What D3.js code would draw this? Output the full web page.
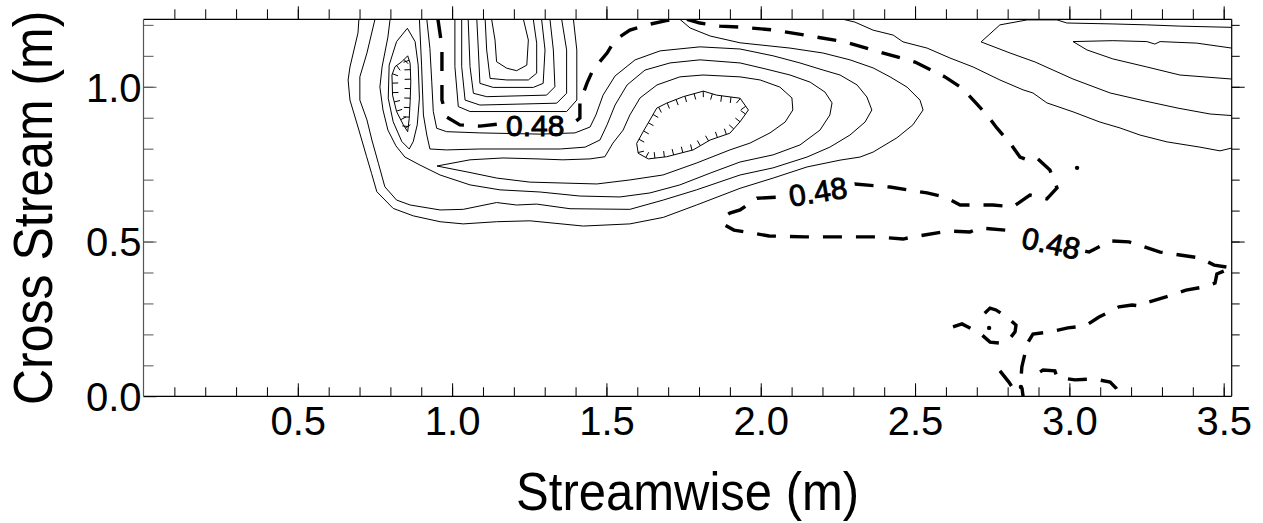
<!DOCTYPE html>
<html>
<head>
<meta charset="utf-8">
<script src="https://cdn.jsdelivr.net/npm/d3@7"></script>
<style>
  body { margin: 0; background: #fff; }
  text { font-family: "Liberation Sans", Arial, Helvetica, sans-serif; fill: #000; }
</style>
</head>
<body>
<svg id="chart" width="1263" height="523"></svg>
<script>
// ticks
var xMajor = [0.5, 1.0, 1.5, 2.0, 2.5, 3.0, 3.5];
var xMinor = d3.range(1, 36).map(function (i) { return i / 10; });
var yMajor = [0.0, 0.5, 1.0];
var yMinor = d3.range(1, 13).map(function (i) { return i / 10; });

// solid contours, open at the top (nested around x=1.2)
var contourU1 = [[1.128,1.218],[1.139,1.151],[1.144,1.081],[1.177,1.060],[1.209,1.052],[1.242,1.070],[1.247,1.151],[1.231,1.218]];
var contourU2 = [[1.107,1.218],[1.112,1.119],[1.123,1.027],[1.177,1.022],[1.247,1.022],[1.274,1.044],[1.274,1.141],[1.263,1.218]];
var contourU3 = [[1.080,1.218],[1.085,1.119],[1.090,1.011],[1.133,0.998],[1.263,0.998],[1.295,1.011],[1.301,1.119],[1.290,1.218]];
var contourU4 = [[1.052,1.218],[1.058,1.065],[1.069,0.979],[1.112,0.968],[1.306,0.973],[1.333,1.000],[1.328,1.119],[1.317,1.218]];
var contourU5 = [[1.031,1.218],[1.031,1.065],[1.042,0.957],[1.090,0.941],[1.339,0.947],[1.371,0.979],[1.371,1.119],[1.355,1.218]];
var contourU6 = [[1.009,1.218],[1.009,1.065],[1.020,0.936],[1.058,0.920],[1.371,0.920],[1.404,0.957],[1.404,1.119],[1.393,1.218]];

// long solid contours wrapping the wake
var contourA = [[0.698,1.218],[0.695,1.174],[0.669,1.064],[0.663,1.022],[0.669,0.957],[0.695,0.870],[0.723,0.774],[0.739,0.720],[0.756,0.661],[0.809,0.607],[0.874,0.583],[0.961,0.564],[1.036,0.557],[1.144,0.564],[1.252,0.567],[1.425,0.550],[1.576,0.557],[1.684,0.578],[1.792,0.618],[1.933,0.672],[2.040,0.705],[2.150,0.741],[2.257,0.763],[2.322,0.773],[2.364,0.789],[2.441,0.835],[2.493,0.877],[2.526,0.925],[2.516,0.957],[2.474,0.999],[2.419,1.032],[2.364,1.061],[2.289,1.087],[2.202,1.109],[2.095,1.125],[1.933,1.142],[1.836,1.164],[1.771,1.190],[1.738,1.218]];
var contourB = [[0.750,1.218],[0.744,1.193],[0.724,1.109],[0.701,1.032],[0.701,0.957],[0.724,0.893],[0.740,0.828],[0.761,0.753],[0.782,0.677],[0.820,0.634],[0.864,0.618],[0.961,0.602],[1.036,0.604],[1.144,0.626],[1.209,0.618],[1.274,0.621],[1.382,0.606],[1.576,0.604],[1.684,0.634],[1.792,0.667],[1.933,0.715],[2.040,0.738],[2.150,0.773],[2.224,0.805],[2.289,0.844],[2.338,0.886],[2.360,0.925],[2.344,0.967],[2.312,1.006],[2.257,1.038],[2.202,1.054],[2.127,1.077],[2.040,1.100],[1.933,1.122],[1.803,1.129],[1.674,1.116],[1.593,1.087],[1.528,1.035],[1.489,0.973],[1.466,0.909],[1.447,0.870],[1.398,0.851],[1.285,0.847],[1.090,0.851],[0.982,0.855],[0.950,0.866],[0.939,0.920],[0.934,1.016],[0.928,1.124],[0.918,1.218]];
var contourC = [[0.799,1.218],[0.792,1.161],[0.773,1.064],[0.766,0.999],[0.776,0.925],[0.792,0.860],[0.818,0.809],[0.847,0.773],[0.896,0.747],[0.961,0.715],[1.058,0.683],[1.155,0.667],[1.285,0.660],[1.414,0.647],[1.544,0.644],[1.641,0.657],[1.738,0.683],[1.836,0.721],[1.933,0.757],[2.040,0.780],[2.127,0.812],[2.192,0.860],[2.224,0.909],[2.231,0.948],[2.208,0.983],[2.160,1.015],[2.095,1.038],[2.014,1.058],[1.933,1.077],[1.803,1.087],[1.706,1.077],[1.625,1.054],[1.567,1.006],[1.528,0.941],[1.502,0.877],[1.479,0.828],[1.431,0.805],[1.350,0.799],[1.090,0.799],[0.982,0.796],[0.928,0.799],[0.918,0.844],[0.907,0.909],[0.901,1.070],[0.894,1.218]];

// closed solid contours
var loopE1 = [[0.951,0.744],[1.058,0.723],[1.145,0.705],[1.252,0.692],[1.359,0.689],[1.469,0.686],[1.576,0.699],[1.683,0.715],[1.793,0.754],[1.900,0.796],[1.965,0.818],[2.030,0.851],[2.079,0.886],[2.104,0.925],[2.101,0.964],[2.062,0.999],[1.998,1.022],[1.933,1.032],[1.813,1.038],[1.738,1.032],[1.664,1.006],[1.609,0.964],[1.576,0.909],[1.554,0.860],[1.521,0.818],[1.495,0.774],[1.447,0.767],[1.359,0.764],[1.275,0.767],[1.165,0.770],[1.058,0.764]];
var loopO1 = [[0.855,1.189],[0.880,1.146],[0.890,1.070],[0.894,0.963],[0.887,0.877],[0.874,0.823],[0.861,0.799],[0.837,0.823],[0.809,0.887],[0.793,0.963],[0.796,1.070],[0.820,1.146]];

// hachured lows
var pitH1 = [[0.856,1.100],[0.864,1.076],[0.866,1.016],[0.864,0.952],[0.861,0.898],[0.856,0.855],[0.842,0.877],[0.820,0.920],[0.807,0.973],[0.805,1.038],[0.815,1.065],[0.837,1.081]];
var pitH2 = [[1.598,0.817],[1.619,0.855],[1.663,0.931],[1.695,0.947],[1.749,0.968],[1.814,0.986],[1.857,0.973],[1.933,0.963],[1.960,0.925],[1.933,0.887],[1.900,0.850],[1.836,0.828],[1.781,0.796],[1.695,0.774],[1.636,0.767],[1.603,0.785]];

// solid contours on the right
var contourR1 = [[2.267,1.218],[2.305,1.209],[2.364,1.183],[2.429,1.167],[2.461,1.145],[2.539,1.125],[2.613,1.093],[2.688,1.064],[2.775,1.022],[2.850,0.990],[2.882,0.980],[2.927,0.948],[3.012,0.919],[3.099,0.886],[3.164,0.867],[3.229,0.844],[3.316,0.822],[3.423,0.805],[3.488,0.793],[3.526,0.802]];
var contourR2 = [[3.526,1.192],[3.358,1.196],[3.251,1.200],[3.141,1.203],[2.992,1.206],[2.960,1.216],[2.863,1.216],[2.775,1.200],[2.714,1.145],[2.808,1.109],[2.889,1.080],[3.012,1.025],[3.132,0.980],[3.245,0.954],[3.352,0.931],[3.456,0.912],[3.526,0.907]];
var contourR3 = [[3.526,1.125],[3.413,1.141],[3.294,1.146],[3.277,1.138],[3.251,1.146],[3.141,1.149],[3.012,1.146],[3.057,1.119],[3.141,1.090],[3.251,1.064],[3.358,1.038],[3.526,1.025]];

// the 0.48 level (dashed): first piece wraps the top-open family
var level048a = [[0.954,1.218],[0.967,1.129],[0.967,0.957],[0.983,0.902],[1.025,0.877],[1.090,0.873],[1.155,0.880],[1.285,0.886],[1.398,0.886],[1.414,0.899],[1.414,0.948],[1.437,1.012],[1.456,1.054],[1.502,1.109],[1.528,1.151],[1.576,1.183],[1.631,1.200],[1.690,1.213],[1.716,1.218]];
var level048b = [[1.761,1.218],[1.803,1.206],[1.868,1.196],[1.933,1.193],[2.046,1.183],[2.160,1.164],[2.273,1.145],[2.386,1.112],[2.500,1.080],[2.597,1.032],[2.652,0.996],[2.694,0.951],[2.733,0.909],[2.765,0.867],[2.808,0.818],[2.840,0.773],[2.866,0.763],[2.895,0.770],[2.937,0.731],[2.960,0.673],[2.927,0.638],[2.872,0.650],[2.817,0.612],[2.752,0.618],[2.646,0.618],[2.597,0.644],[2.539,0.657],[2.419,0.676],[2.305,0.686],[2.185,0.666],[2.069,0.644],[1.988,0.640],[1.933,0.602],[1.900,0.592],[1.881,0.579],[1.884,0.553],[1.913,0.537],[1.968,0.528],[2.027,0.518],[2.143,0.515],[2.257,0.515],[2.377,0.515],[2.461,0.508],[2.493,0.515],[2.607,0.534],[2.678,0.531],[2.710,0.544],[2.827,0.534],[2.937,0.495],[3.064,0.466],[3.132,0.502],[3.193,0.499],[3.294,0.466],[3.423,0.447],[3.469,0.424],[3.526,0.415],[3.478,0.395],[3.472,0.366],[3.433,0.353],[3.378,0.343],[3.313,0.321],[3.258,0.305],[3.229,0.292],[3.203,0.295],[3.161,0.289],[3.096,0.256],[3.051,0.227],[2.995,0.221],[2.937,0.208],[2.882,0.201],[2.866,0.175],[2.859,0.150],[2.846,0.095],[2.843,0.053],[2.850,0.000]];
var level048LoopP1 = [[2.623,0.224],[2.652,0.234],[2.691,0.214],[2.717,0.198],[2.743,0.175],[2.775,0.172],[2.808,0.188],[2.824,0.208],[2.827,0.230],[2.798,0.256],[2.762,0.279],[2.743,0.285],[2.723,0.266],[2.717,0.253]];
var level048P2 = [[2.775,0.082],[2.804,0.046],[2.834,0.000]];
var level048P3 = [[2.905,0.079],[2.915,0.085],[2.953,0.082],[2.960,0.062],[3.018,0.053],[3.080,0.056],[3.132,0.046],[3.151,0.027],[3.167,0.000]];
var level048Dots = [[2.740,0.221],[2.843,0.030],[3.025,0.738]];

// label anchors on the 0.48 line: [x, y, angle]
var labelSpots = [[1.269, 0.877, 0], [2.185, 0.662, -9], [2.941, 0.495, 12]];
var labelText = "0.48";

var svg = d3.select("#chart");
var x = d3.scaleLinear().domain([0, 3.526]).range([143.5, 1231.7]);
var y = d3.scaleLinear().domain([0, 1.218]).range([396.3, 19.3]);

var defs = svg.append("defs");
defs.append("clipPath").attr("id", "plotClip")
  .append("rect").attr("x", x(0)).attr("y", y(1.218))
  .attr("width", x(3.526) - x(0)).attr("height", y(0) - y(1.218));

// mask: hide the dashed line under its labels
var mask = defs.append("mask").attr("id", "labelMask").attr("maskUnits", "userSpaceOnUse");
mask.append("rect").attr("x", 0).attr("y", 0).attr("width", 1263).attr("height", 523).attr("fill", "#fff");
labelSpots.forEach(function (d) {
  mask.append("rect")
    .attr("x", -35).attr("y", -17).attr("width", 70).attr("height", 34)
    .attr("fill", "#000")
    .attr("transform", "translate(" + x(d[0]) + "," + y(d[1]) + ") rotate(" + d[2] + ")");
});

var openLine = d3.line().x(function (d) { return x(d[0]); }).y(function (d) { return y(d[1]); });
var loopLine = d3.line().x(function (d) { return x(d[0]); }).y(function (d) { return y(d[1]); }).curve(d3.curveLinearClosed);

var plot = svg.append("g").attr("clip-path", "url(#plotClip)");

var openSolid = [contourU1, contourU2, contourU3, contourU4, contourU5, contourU6,
                 contourA, contourB, contourC, contourR1, contourR2, contourR3];
plot.selectAll("path.solid").data(openSolid).enter().append("path")
  .attr("class", "solid").attr("d", openLine)
  .attr("fill", "none").attr("stroke", "#000").attr("stroke-width", 1);

var closedSolid = [loopE1, loopO1, pitH1, pitH2];
plot.selectAll("path.loop").data(closedSolid).enter().append("path")
  .attr("class", "loop").attr("d", loopLine)
  .attr("fill", "none").attr("stroke", "#000").attr("stroke-width", 1);

// downhill ticks on the two pits
[pitH1, pitH2].forEach(function (poly) {
  var pts = poly.map(function (d) { return [x(d[0]), y(d[1])]; });
  var node = plot.append("path").attr("d", loopLine(poly)).attr("fill", "none").attr("stroke", "none").node();
  var total = node.getTotalLength();
  var step = 9.5, len = 6;
  for (var s = step / 2; s < total; s += step) {
    var p = node.getPointAtLength(s);
    var a = node.getPointAtLength(Math.max(0, s - 1));
    var b = node.getPointAtLength(Math.min(total, s + 1));
    var tx = b.x - a.x, ty = b.y - a.y, n = Math.sqrt(tx * tx + ty * ty) || 1;
    var nx = -ty / n, ny = tx / n;
    if (!d3.polygonContains(pts, [p.x + nx * 2, p.y + ny * 2])) { nx = -nx; ny = -ny; }
    plot.append("line")
      .attr("x1", p.x).attr("y1", p.y).attr("x2", p.x + nx * len).attr("y2", p.y + ny * len)
      .attr("stroke", "#000").attr("stroke-width", 1);
  }
});

// dashed 0.48 level
var dashGroup = plot.append("g").attr("mask", "url(#labelMask)");
dashGroup.selectAll("path").data([level048a, level048b, level048LoopP1, level048P2, level048P3]).enter().append("path")
  .attr("d", openLine).attr("fill", "none").attr("stroke", "#000")
  .attr("stroke-width", 3.4).attr("stroke-dasharray", "19,14");
plot.selectAll("circle.dot").data(level048Dots).enter().append("circle")
  .attr("class", "dot").attr("cx", function (d) { return x(d[0]); }).attr("cy", function (d) { return y(d[1]); })
  .attr("r", 2.2).attr("fill", "#000");

svg.selectAll("text.lbl").data(labelSpots).enter().append("text")
  .attr("class", "lbl")
  .attr("transform", function (d) { return "translate(" + x(d[0]) + "," + y(d[1]) + ") rotate(" + d[2] + ")"; })
  .attr("text-anchor", "middle").attr("dy", "0.36em")
  .style("font-size", "30px").style("stroke", "#000").style("stroke-width", 0.9)
  .text(labelText);

// axes
function styleAxis(g, color) {
  g.select(".domain").remove();
  g.selectAll(".tick line").attr("stroke", color).attr("stroke-width", 1);
}
var fmt = d3.format(".1f");

svg.append("g").attr("transform", "translate(0," + y(0) + ")")
  .call(d3.axisBottom(x).tickValues(xMinor).tickSize(-9).tickFormat(""))
  .call(styleAxis, "#000");
svg.append("g").attr("transform", "translate(0," + y(0) + ")")
  .call(d3.axisBottom(x).tickValues(xMajor).tickSize(-13).tickFormat(fmt))
  .call(styleAxis, "#000")
  .call(function (g) {
    g.selectAll("text").attr("y", 39).attr("dy", null)
      .style("font-size", "40px").style("font-family", "'Liberation Sans', Arial, sans-serif").attr("fill", "#000");
  });

svg.append("g").attr("transform", "translate(0," + y(1.218) + ")")
  .call(d3.axisTop(x).tickValues(xMinor).tickSize(10).tickFormat(""))
  .call(styleAxis, "#000");
svg.append("g").attr("transform", "translate(0," + y(1.218) + ")")
  .call(d3.axisTop(x).tickValues(xMajor).tickSize(13).tickFormat(""))
  .call(styleAxis, "#000");

svg.append("g").attr("transform", "translate(" + x(0) + ",0)")
  .call(d3.axisLeft(y).tickValues(yMinor).tickSize(-10).tickFormat(""))
  .call(styleAxis, "#555");
svg.append("g").attr("transform", "translate(" + x(0) + ",0)")
  .call(d3.axisLeft(y).tickValues(yMajor).tickSize(-13).tickFormat(fmt))
  .call(styleAxis, "#555")
  .call(function (g) {
    g.selectAll("text").attr("x", -2).attr("dy", null).attr("y", 14.3)
      .style("font-size", "40px").style("font-family", "'Liberation Sans', Arial, sans-serif").attr("fill", "#000");
  });

svg.append("g").attr("transform", "translate(" + x(3.526) + ",0)")
  .call(d3.axisRight(y).tickValues(yMinor).tickSize(8).tickFormat(""))
  .call(styleAxis, "#000");
svg.append("g").attr("transform", "translate(" + x(3.526) + ",0)")
  .call(d3.axisRight(y).tickValues(yMajor.slice(1)).tickSize(13).tickFormat(""))
  .call(styleAxis, "#000");

// frame
var x0 = x(0), x1 = x(3.526), y0 = y(0), y1 = y(1.218);
svg.append("line").attr("x1", x0).attr("x2", x1).attr("y1", y0).attr("y2", y0).attr("stroke", "#000").attr("stroke-width", 1.3);
svg.append("line").attr("x1", x0).attr("x2", x1).attr("y1", y1).attr("y2", y1).attr("stroke", "#000").attr("stroke-width", 1.2);
svg.append("line").attr("x1", x1).attr("x2", x1).attr("y1", y1).attr("y2", y0).attr("stroke", "#000").attr("stroke-width", 1.2);
svg.append("line").attr("x1", x0).attr("x2", x0).attr("y1", y1).attr("y2", y0).attr("stroke", "#555").attr("stroke-width", 1.2);

// axis titles
svg.append("text")
  .attr("transform", "translate(" + ((x0 + x1) / 2) + ",510) scale(1,1.1)")
  .attr("text-anchor", "middle").style("font-size", "49px")
  .text("Streamwise (m)");
svg.append("text")
  .attr("transform", "translate(52," + ((y0 + y1) / 2) + ") rotate(-90) scale(1,1.1)")
  .attr("text-anchor", "middle").style("font-size", "50px")
  .text("Cross Stream (m)");
</script>
</body>
</html>
